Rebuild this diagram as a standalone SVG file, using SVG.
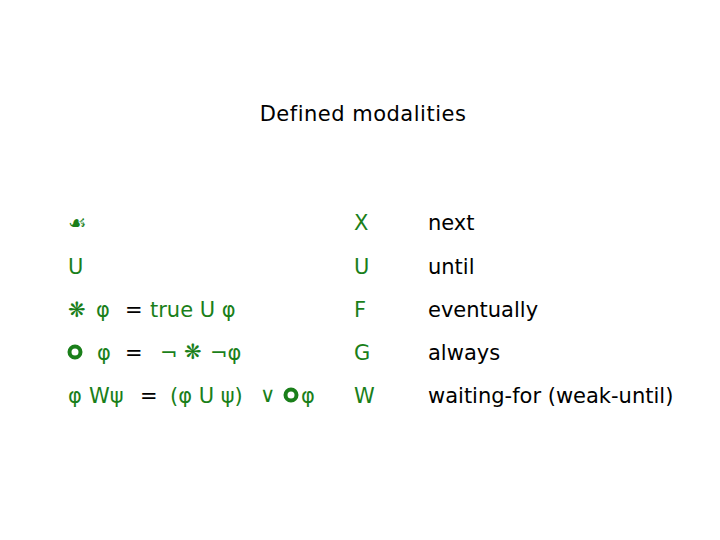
<svg xmlns="http://www.w3.org/2000/svg" width="720" height="540" viewBox="0 0 720 540">
<style>
text{font-family:"DejaVu Sans","Liberation Sans",sans-serif;font-size:21px}
.g{fill:#1a7f1a}
.k{fill:#000}
.ring{fill:none;stroke:#1a7f1a;stroke-width:4}
</style>
<rect width="720" height="540" fill="#fff"/>
<text class="k" x="363" y="121" text-anchor="middle" font-size="20" letter-spacing="0.5">Defined modalities</text>
<g id="left">
<text class="g" x="68" y="230" font-size="24">☙</text>
<text class="g" x="68" y="274">U</text>
<text class="g" x="68" y="317" font-size="18">❋</text>
<text class="g" x="96" y="317">φ</text>
<text class="k" x="125" y="317">=</text>
<text class="g" x="150" y="317">true U φ</text>
<circle class="ring" cx="75" cy="352" r="5.5"/>
<text class="g" x="97" y="360">φ</text>
<text class="k" x="125" y="360">=</text>
<text class="g" x="160" y="360">¬</text>
<text class="g" x="184" y="359" font-size="18">❋</text>
<text class="g" x="210" y="360">¬φ</text>
<text class="g" x="68" y="403">φ</text>
<text class="g" x="89" y="403">Wψ</text>
<text class="k" x="140" y="403">=</text>
<text class="g" x="170" y="403">(φ U ψ)</text>
<text class="g" x="260" y="402" font-size="16">∨</text>
<circle class="ring" cx="291" cy="395" r="5.5"/>
<text class="g" x="301" y="403">φ</text>
</g>
<g id="right">
<text class="g" x="354" y="230">X</text><text class="k" x="428" y="230">next</text>
<text class="g" x="354" y="274">U</text><text class="k" x="428" y="274">until</text>
<text class="g" x="354" y="317">F</text><text class="k" x="428" y="317">eventually</text>
<text class="g" x="354" y="360">G</text><text class="k" x="428" y="360">always</text>
<text class="g" x="354" y="403">W</text><text class="k" x="428" y="403">waiting-for (weak-until)</text>
</g>
</svg>
